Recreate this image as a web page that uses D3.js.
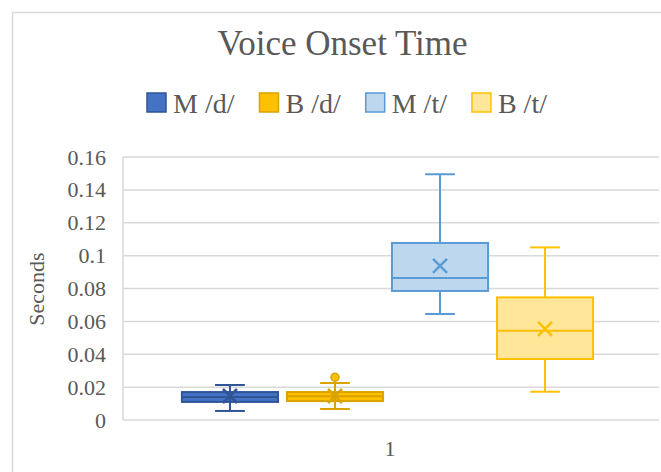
<!DOCTYPE html>
<html><head><meta charset="utf-8">
<script src="https://cdn.jsdelivr.net/npm/d3@7"></script>
<style>html,body{margin:0;padding:0;background:#fff;overflow:hidden}</style>
</head><body>
<svg id="c" width="661" height="472"></svg>
<script>
const categories = ["1"];
const seriesNames = ["M /d/", "B /d/", "M /t/", "B /t/"];
const whiskerLow  = [0.0055, 0.0067, 0.0645, 0.0172];
const q1          = [0.0110, 0.0115, 0.0785, 0.0371];
const median      = [0.0140, 0.0145, 0.0864, 0.0543];
const q3          = [0.0170, 0.0170, 0.1077, 0.0746];
const whiskerHigh = [0.0213, 0.0225, 0.1495, 0.1050];
const means       = [0.0146, 0.0146, 0.0937, 0.0554];
const outliers    = [[], [0.026], [], []];
const yTicks = [0, 0.02, 0.04, 0.06, 0.08, 0.1, 0.12, 0.14, 0.16];
const title = "Voice Onset Time";
const yTitle = "Seconds";

const fills   = ["#4472C4", "#FFC000", "#BDD7EE", "#FFE699"];
const strokes = ["#2F5597", "#D9A300", "#5B9BD5", "#FFC000"];

const svg = d3.select("#c");
const font = "Liberation Serif, Times New Roman, serif";
const textCol = "#595959";
const grid = "#D9D9D9";

// chart border
svg.append("rect").attr("x", 12.5).attr("y", 12.5).attr("width", 800).attr("height", 600)
  .attr("fill", "none").attr("stroke", grid).attr("stroke-width", 1.5);

const L = 123, R = 657, T = 157, B = 420;
const y = d3.scaleLinear().domain([0, 0.16]).range([B, T]);
const x0 = d3.scaleBand().domain(categories).range([L - 4, R - 1]).paddingOuter(0.153).paddingInner(0);
const x1 = d3.scaleBand().domain(seriesNames).range([0, x0.bandwidth()]).paddingInner(0.085).paddingOuter(0);
const xLab = d3.scaleBand().domain(categories).range([L, R]);

// gridlines
svg.append("g").selectAll("line").data(yTicks).join("line")
  .attr("x1", L).attr("x2", R + 2).attr("y1", d => y(d)).attr("y2", d => y(d))
  .attr("stroke", grid).attr("stroke-width", 1.5);
// vertical axis line
svg.append("line").attr("x1", L).attr("x2", L).attr("y1", T).attr("y2", B)
  .attr("stroke", grid).attr("stroke-width", 1.5);

// y tick labels
const yAxis = d3.axisLeft(y).tickValues(yTicks).tickSize(0).tickPadding(17)
  .tickFormat(d => String(+d.toFixed(2)));
const ga = svg.append("g").attr("transform", `translate(${L},0)`).call(yAxis);
ga.select(".domain").remove();
ga.selectAll("text").style("font-family", font).style("font-size", "22px").attr("fill", textCol);

// x axis labels
const xAxis = d3.axisBottom(xLab).tickSize(0).tickPadding(20);
const gx = svg.append("g").attr("transform", `translate(0,${B})`).call(xAxis);
gx.select(".domain").remove();
gx.selectAll("text").style("font-family", font).style("font-size", "22px").attr("fill", textCol);

// boxes
const data = seriesNames.map((s, i) => ({s, i, lo: whiskerLow[i], q1: q1[i], med: median[i], q3: q3[i], hi: whiskerHigh[i], mean: means[i], out: outliers[i]}));
const g = svg.append("g").attr("transform", `translate(${x0(categories[0])},0)`);
const bw = x1.bandwidth();
const capW = bw * 0.31;
data.forEach(d => {
  const cx = x1(d.s) + bw / 2;
  const gg = g.append("g");
  const sc = strokes[d.i];
  gg.append("line").attr("x1", cx).attr("x2", cx).attr("y1", y(d.hi)).attr("y2", y(d.q3)).attr("stroke", sc).attr("stroke-width", 2);
  gg.append("line").attr("x1", cx).attr("x2", cx).attr("y1", y(d.q1)).attr("y2", y(d.lo)).attr("stroke", sc).attr("stroke-width", 2);
  gg.append("line").attr("x1", cx - capW/2).attr("x2", cx + capW/2).attr("y1", y(d.hi)).attr("y2", y(d.hi)).attr("stroke", sc).attr("stroke-width", 2);
  gg.append("line").attr("x1", cx - capW/2).attr("x2", cx + capW/2).attr("y1", y(d.lo)).attr("y2", y(d.lo)).attr("stroke", sc).attr("stroke-width", 2);
  gg.append("rect").attr("x", x1(d.s)).attr("y", y(d.q3)).attr("width", bw).attr("height", y(d.q1) - y(d.q3))
    .attr("fill", fills[d.i]).attr("stroke", sc).attr("stroke-width", 2);
  gg.append("line").attr("x1", x1(d.s)).attr("x2", x1(d.s) + bw).attr("y1", y(d.med)).attr("y2", y(d.med)).attr("stroke", sc).attr("stroke-width", 2);
  if (d.i < 2) gg.append("line").attr("x1", cx).attr("x2", cx).attr("y1", y(d.q3)).attr("y2", y(d.q1)).attr("stroke", sc).attr("stroke-width", 2);
  const m = 7, my = y(d.mean);
  gg.append("path").attr("d", `M${cx-m},${my-m}L${cx+m},${my+m}M${cx-m},${my+m}L${cx+m},${my-m}`)
    .attr("stroke", sc).attr("stroke-width", 2.5).attr("fill", "none");
  gg.selectAll("circle").data(d.out).join("circle").attr("cx", cx).attr("cy", v => y(v)).attr("r", 4)
    .attr("fill", fills[d.i]).attr("stroke", sc).attr("stroke-width", 1.5);
});

// title
svg.append("text").attr("x", 342.5).attr("y", 55).attr("text-anchor", "middle")
  .style("font-family", font).style("font-size", "35px").attr("fill", textCol).text(title);

// y title
svg.append("text").attr("transform", `translate(44,289) rotate(-90)`).attr("text-anchor", "middle")
  .style("font-family", font).style("font-size", "22px").attr("fill", textCol).text(yTitle);

// legend
const lg = svg.append("g");
let lx = 147;
seriesNames.forEach((s, i) => {
  lg.append("rect").attr("x", lx).attr("y", 93).attr("width", 19).attr("height", 19)
    .attr("fill", fills[i]).attr("stroke", strokes[i]).attr("stroke-width", 1.5);
  const t = lg.append("text").attr("x", lx + 26).attr("y", 112.5)
    .style("font-family", font).style("font-size", "28px").attr("fill", textCol).text(s);
  lx += 26 + t.node().getComputedTextLength() + 25;
});
</script>
</body></html>
